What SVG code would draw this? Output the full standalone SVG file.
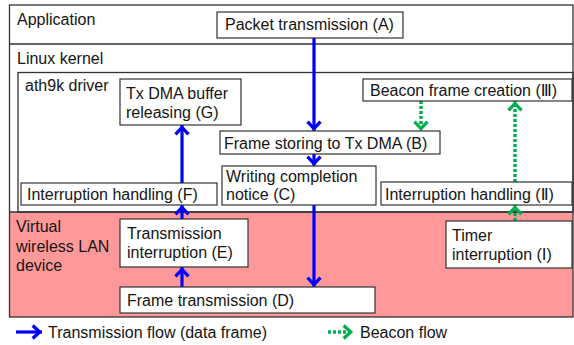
<svg xmlns="http://www.w3.org/2000/svg" width="574" height="345" viewBox="0 0 574 345">
  <defs>
    <style>
      text { font-family: "Liberation Sans", "DejaVu Sans", "Noto Sans CJK JP", sans-serif; font-size: 16px; fill: #151515; }
      .box { fill: #ffffff; stroke: #333333; stroke-width: 1.2; }
      .frame { fill: none; stroke: #333333; stroke-width: 1.3; }
      .data { fill: none; stroke: #0000ff; stroke-width: 3.2; marker-end: url(#head-data); }
      .beacon { fill: none; stroke: #00b050; stroke-width: 3.5; stroke-dasharray: 3 2; marker-end: url(#head-beacon); }
    </style>
    <marker id="head-data" markerUnits="userSpaceOnUse" viewBox="-12 -9 16 18" markerWidth="16" markerHeight="18" refX="2.3" refY="0" orient="auto">
      <path d="M-7,-6.5 L0,0 L-7,6.5" fill="none" stroke="#0000ff" stroke-width="3.3"/>
    </marker>
    <marker id="head-beacon" markerUnits="userSpaceOnUse" viewBox="-12 -9 16 18" markerWidth="16" markerHeight="18" refX="2.3" refY="0" orient="auto">
      <path d="M-7,-6.5 L0,0 L-7,6.5" fill="none" stroke="#00b050" stroke-width="3.3"/>
    </marker>
  </defs>

  <!-- layers: application / kernel / virtual device -->
  <g id="layers">
    <rect x="9.5" y="212" width="563.5" height="105" fill="#ff9999"/>
    <rect class="frame" x="9.5" y="5" width="563.5" height="312"/>
    <line class="frame" x1="9.5" y1="44" x2="573" y2="44"/>
    <rect class="frame" x="18" y="72.5" width="555" height="139.5"/>
    <line class="frame" x1="9.5" y1="212" x2="573" y2="212"/>
    <text x="17" y="25">Application</text>
    <text x="17" y="64">Linux kernel</text>
    <text x="25" y="91">ath9k driver</text>
    <text x="16" y="232">Virtual</text>
    <text x="16" y="251.5">wireless LAN</text>
    <text x="16" y="271">device</text>
  </g>

  <!-- connectors -->
  <g id="connectors">
    <line class="data" x1="314" y1="38" x2="314" y2="131"/>
    <line class="data" x1="314" y1="154" x2="314" y2="166"/>
    <line class="data" x1="314" y1="205" x2="314" y2="287"/>
    <line class="data" x1="182" y1="287" x2="182" y2="267"/>
    <line class="data" x1="182" y1="219" x2="182" y2="205"/>
    <line class="data" x1="182" y1="183" x2="182" y2="125"/>
    <line class="beacon" x1="421" y1="101" x2="421" y2="131"/>
    <line class="beacon" x1="515" y1="221" x2="515" y2="205"/>
    <line class="beacon" x1="515" y1="182" x2="515" y2="101"/>
  </g>

  <g id="node-A">
    <rect class="box" x="217" y="12" width="186" height="26"/>
    <text x="225" y="30">Packet transmission (A)</text>
  </g>
  <g id="node-B">
    <rect class="box" x="220" y="131" width="220" height="23"/>
    <text x="224" y="149">Frame storing to Tx DMA (B)</text>
  </g>
  <g id="node-C">
    <rect class="box" x="222" y="166" width="154" height="39"/>
    <text x="226" y="182">Writing completion</text>
    <text x="226" y="200">notice (C)</text>
  </g>
  <g id="node-D">
    <rect class="box" x="120" y="287" width="255" height="26"/>
    <text x="127" y="306">Frame transmission (D)</text>
  </g>
  <g id="node-E">
    <rect class="box" x="120" y="219" width="128" height="48"/>
    <text x="127" y="239">Transmission</text>
    <text x="127" y="258">interruption (E)</text>
  </g>
  <g id="node-F">
    <rect class="box" x="21" y="183" width="196" height="22"/>
    <text x="27" y="199.5">Interruption handling (F)</text>
  </g>
  <g id="node-G">
    <rect class="box" x="120" y="79" width="121" height="46"/>
    <text x="126" y="99">Tx DMA buffer</text>
    <text x="126" y="118">releasing (G)</text>
  </g>
  <g id="node-I">
    <rect class="box" x="446" y="221" width="126" height="47"/>
    <text x="452" y="241">Timer</text>
    <text x="452" y="260">interruption (Ⅰ)</text>
  </g>
  <g id="node-II">
    <rect class="box" x="381" y="182" width="191" height="23"/>
    <text x="385" y="199.5">Interruption handling (Ⅱ)</text>
  </g>
  <g id="node-III">
    <rect class="box" x="363" y="79" width="209" height="22"/>
    <text x="370" y="96">Beacon frame creation (Ⅲ)</text>
  </g>

  <!-- legend -->
  <g id="legend">
    <line class="data" x1="16" y1="332" x2="42" y2="332"/>
    <text x="48" y="338">Transmission flow (data frame)</text>
    <line class="beacon" x1="328" y1="332" x2="353" y2="332"/>
    <text x="360" y="338">Beacon flow</text>
  </g>
</svg>
